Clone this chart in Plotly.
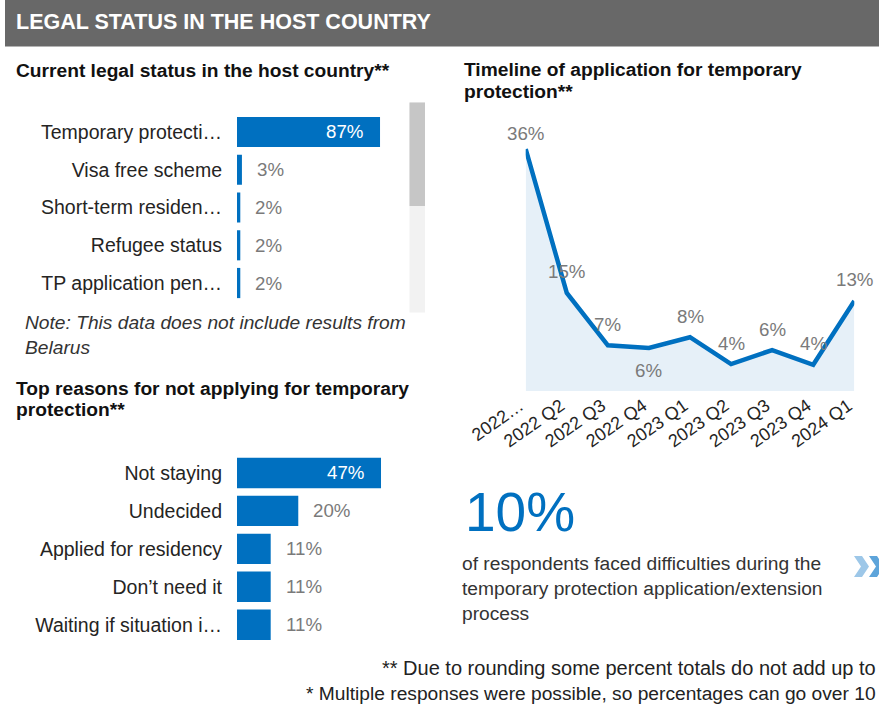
import plotly.graph_objects as go

# ---------------- data ----------------
status_labels = ["Temporary protecti…", "Visa free scheme", "Short-term residen…",
                 "Refugee status", "TP application pen…"]
status_values = [87, 3, 2, 2, 2]

reason_labels = ["Not staying", "Undecided", "Applied for residency",
                 "Don’t need it", "Waiting if situation i…"]
reason_values = [47, 20, 11, 11, 11]

quarters = ["2022…", "2022 Q2", "2022 Q3", "2022 Q4", "2023 Q1",
            "2023 Q2", "2023 Q3", "2023 Q4", "2024 Q1"]
timeline_values = [36, 14.6, 6.8, 6.4, 8.0, 4.0, 6.1, 3.9, 13.4]

difficulty_share = 10

# ---------------- style ----------------
W, H = 879, 704
FONT = "Arial, 'Liberation Sans', sans-serif"
BLUE = "#0070C0"
DARK = "#252423"
GREY = "#7a7a7a"
TXT = 19.2


def px(x):
    return x / W


def py(y):
    return 1 - y / H


fig = go.Figure()

# top bar chart
fig.add_trace(go.Bar(x=status_values, y=status_labels, orientation="h",
                     marker=dict(color=BLUE, line=dict(width=0)),
                     xaxis="x", yaxis="y", hoverinfo="skip"))
# bottom bar chart
fig.add_trace(go.Bar(x=reason_values, y=reason_labels, orientation="h",
                     marker=dict(color=BLUE, line=dict(width=0)),
                     xaxis="x2", yaxis="y2", hoverinfo="skip"))
# timeline
fig.add_trace(go.Scatter(x=quarters, y=timeline_values, mode="lines",
                         line=dict(color=BLUE, width=4.5),
                         fill="tozeroy", fillcolor="#E6F0F8",
                         xaxis="x3", yaxis="y3", hoverinfo="skip"))

annotations = []
shapes = []

# value labels on bars
for labels, values, xr, yr in [(status_labels, status_values, "x", "y"),
                               (reason_labels, reason_values, "x2", "y2")]:
    vmax = max(values)
    for lab, v in zip(labels, values):
        inside = v == vmax
        annotations.append(dict(
            x=v, y=lab, xref=xr, yref=yr, text=f"{v}%", showarrow=False,
            xanchor="right" if inside else "left",
            xshift=-15 if inside else 13,
            font=dict(family=FONT, size=18.7, color="white" if inside else GREY)))

# value labels on line
offsets = [16, 21, 21, -23, 21, 21, 21, 21, 21]
for q, v, off in zip(quarters, timeline_values, offsets):
    annotations.append(dict(
        x=q, y=v, xref="x3", yref="y3", text=f"{round(v)}%", showarrow=False,
        yshift=off, font=dict(family=FONT, size=18.7, color=GREY)))

# header
shapes.append(dict(type="rect", xref="paper", yref="paper",
                   x0=px(5), x1=px(879), y0=py(46.5), y1=py(0),
                   fillcolor="#686868", line=dict(width=0), layer="below"))
annotations.append(dict(x=px(14), y=py(22), xref="paper", yref="paper",
                        text="<b>LEGAL STATUS IN THE HOST COUNTRY</b>",
                        showarrow=False, xanchor="left", yanchor="middle",
                        font=dict(family=FONT, size=21.5, color="white")))

# scrollbar
shapes.append(dict(type="rect", xref="paper", yref="paper",
                   x0=px(409.5), x1=px(425), y0=py(312.5), y1=py(102.5),
                   fillcolor="#F2F2F2", line=dict(width=0), layer="below"))
shapes.append(dict(type="rect", xref="paper", yref="paper",
                   x0=px(409.5), x1=px(425), y0=py(206), y1=py(102.5),
                   fillcolor="#C6C6C6", line=dict(width=0), layer="below"))

# chevrons
shapes.append(dict(type="path", xref="paper", yref="paper",
                   path=f"M {px(854)} {py(556)} L {px(862)} {py(556)} L {px(869)} {py(566.5)} "
                        f"L {px(862)} {py(577)} L {px(854)} {py(577)} L {px(861)} {py(566.5)} Z",
                   fillcolor="#9DC7E8", line=dict(width=0)))
shapes.append(dict(type="path", xref="paper", yref="paper",
                   path=f"M {px(869)} {py(556)} L {px(877)} {py(556)} L {px(879)} {py(559)} "
                        f"L {px(879)} {py(574)} L {px(877)} {py(577)} L {px(869)} {py(577)} "
                        f"L {px(876)} {py(566.5)} Z",
                   fillcolor="#5DA4DA", line=dict(width=0)))


def text(x, y, s, size=TXT, color=DARK, bold=False, italic=False, anchor="left"):
    if bold:
        s = f"<b>{s}</b>"
    if italic:
        s = f"<i>{s}</i>"
    annotations.append(dict(x=px(x), y=py(y), xref="paper", yref="paper", text=s,
                            showarrow=False, xanchor=anchor, yanchor="middle",
                            font=dict(family=FONT, size=size, color=color)))


text(14, 71, "Current legal status in the host country**", bold=True, color="#111")
text(462, 70, "Timeline of application for temporary", bold=True, color="#111")
text(462, 91, "protection**", bold=True, color="#111")
text(14, 388, "Top reasons for not applying for temporary", bold=True, color="#111")
text(14, 409, "protection**", bold=True, color="#111")
text(23, 322, "Note: This data does not include results from", italic=True, color="#333")
text(23, 347, "Belarus", italic=True, color="#333")
text(463, 512, f"{difficulty_share}%", size=55, color=BLUE)
text(460, 563, "of respondents faced difficulties during the", color="#333")
text(460, 588, "temporary protection application/extension", color="#333")
text(460, 613, "process", color="#333")
text(380, 668, "** Due to rounding some percent totals do not add up to", size=20,
     color="#222")
text(878, 693, "* Multiple responses were possible, so percentages can go over 10",
     color="#222", anchor="right")

hidden = dict(visible=False, fixedrange=True, automargin=False)
cat_axis = dict(showgrid=False, zeroline=False, showline=False, ticks="",
                ticklabelstandoff=14, automargin=False,
                tickfont=dict(family=FONT, size=19.5, color=DARK), fixedrange=True)

fig.update_layout(
    width=W, height=H,
    margin=dict(l=0, r=0, t=0, b=0, pad=0, autoexpand=False),
    paper_bgcolor="white", plot_bgcolor="rgba(0,0,0,0)",
    showlegend=False, bargap=0.2,
    font=dict(family=FONT),
    xaxis=dict(domain=[px(237), px(237 + 164.4)], range=[0, 100], **hidden),
    yaxis=dict(domain=[py(301.9), py(113.1)], range=[4.5, -0.5], anchor="x", **cat_axis),
    xaxis2=dict(domain=[px(237), px(237 + 153.2)], range=[0, 50], anchor="y2", **hidden),
    yaxis2=dict(domain=[py(643.7), py(454)], range=[4.5, -0.5], anchor="x2", **cat_axis),
    xaxis3=dict(domain=[px(525.7), px(854.3)], range=[0, 8], anchor="y3",
                showgrid=False, zeroline=False, showline=False, ticks="",
                automargin=False, ticklabelshift=-6,
                tickangle=-35, tickfont=dict(family=FONT, size=18, color=DARK),
                fixedrange=True),
    yaxis3=dict(domain=[py(391), py(122.2)], range=[0, 40], anchor="x3",
                visible=False, fixedrange=True, automargin=False),
    annotations=annotations,
    shapes=shapes,
)

fig.write_html("out.html", config={"displayModeBar": False},
               post_script="document.body.style.margin='0';")
